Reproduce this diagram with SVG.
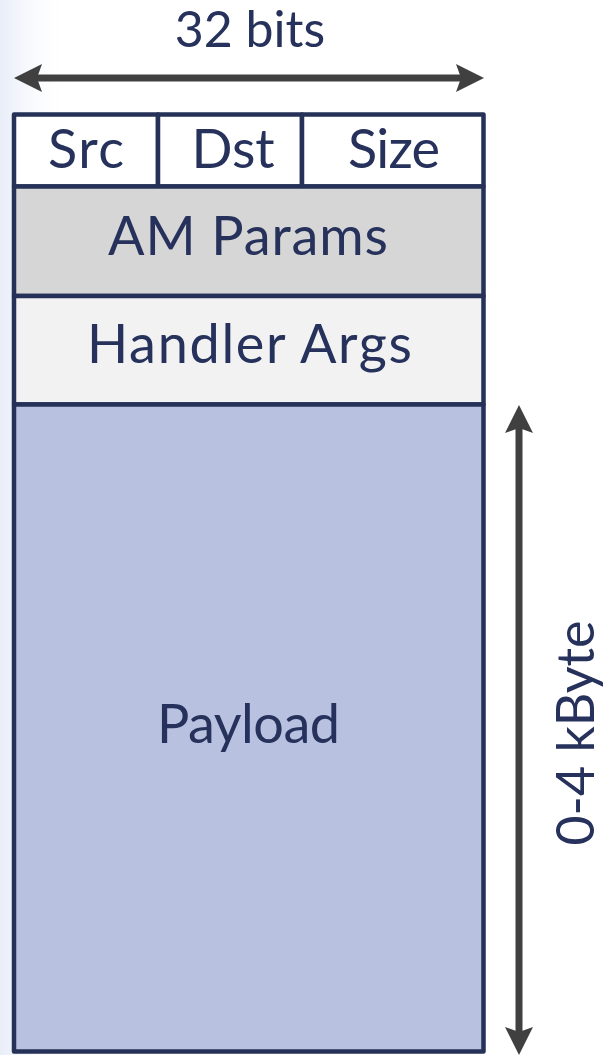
<svg xmlns="http://www.w3.org/2000/svg" width="606" height="1055" viewBox="0 0 606 1055">
<style>
.cell{stroke:#253157;stroke-width:4.5;stroke-linejoin:round}
.lbl{font-family:Lato,"Open Sans","Liberation Sans",sans-serif;font-size:54px;fill:#26325b;text-anchor:middle}
.dim{stroke:#404040;stroke-width:7;fill:none}
</style>
<defs>
<linearGradient id="bg" x1="0" y1="0" x2="1" y2="0">
<stop offset="0" stop-color="#e8edf8"/>
<stop offset="1" stop-color="#ffffff" stop-opacity="0"/>
</linearGradient>
<marker id="ah" viewBox="0 0 28 28" refX="5" refY="14" markerWidth="28" markerHeight="28" markerUnits="userSpaceOnUse" orient="auto-start-reverse">
<path d="M28,14 L0,0 L5,14 L0,28 Z" fill="#404040"/>
</marker>
</defs>
<rect width="606" height="1055" fill="#ffffff"/>
<rect width="70" height="1055" fill="url(#bg)"/>
<g id="connectors">
<line class="dim" x1="37" y1="78" x2="461" y2="78" marker-start="url(#ah)" marker-end="url(#ah)"/>
<line class="dim" x1="519" y1="428" x2="519" y2="1032" marker-start="url(#ah)" marker-end="url(#ah)"/>
</g>
<g id="width-label"><text class="lbl" x="250" y="47" style="font-size:50px">32 bits</text></g>
<g id="size-label"><text class="lbl" transform="translate(594,733) rotate(-90)" x="0" y="0" style="font-size:52px">0-4 kByte</text></g>
<g id="src"><rect class="cell" x="14" y="114.5" width="144" height="72" fill="#ffffff"/><text class="lbl" x="86" y="167.5" textLength="76" lengthAdjust="spacing">Src</text></g>
<g id="dst"><rect class="cell" x="158" y="114.5" width="144" height="72" fill="#ffffff"/><text class="lbl" x="233" y="167.5" textLength="83" lengthAdjust="spacing">Dst</text></g>
<g id="size"><rect class="cell" x="302" y="114.5" width="181.5" height="72" fill="#ffffff"/><text class="lbl" x="394" y="167.5" textLength="92" lengthAdjust="spacing">Size</text></g>
<g id="am-params"><rect class="cell" x="14" y="186.5" width="469.5" height="109.5" fill="#d6d6d6"/><text class="lbl" x="248" y="255" textLength="280" lengthAdjust="spacing">AM Params</text></g>
<g id="handler-args"><rect class="cell" x="14" y="296" width="469.5" height="108.5" fill="#f2f2f2"/><text class="lbl" x="249.5" y="363" textLength="325" lengthAdjust="spacing">Handler Args</text></g>
<g id="payload"><rect class="cell" x="14" y="404.5" width="469.5" height="647" fill="#b8c2e0"/><text class="lbl" x="248.5" y="743" textLength="183" lengthAdjust="spacing">Payload</text></g>
</svg>
